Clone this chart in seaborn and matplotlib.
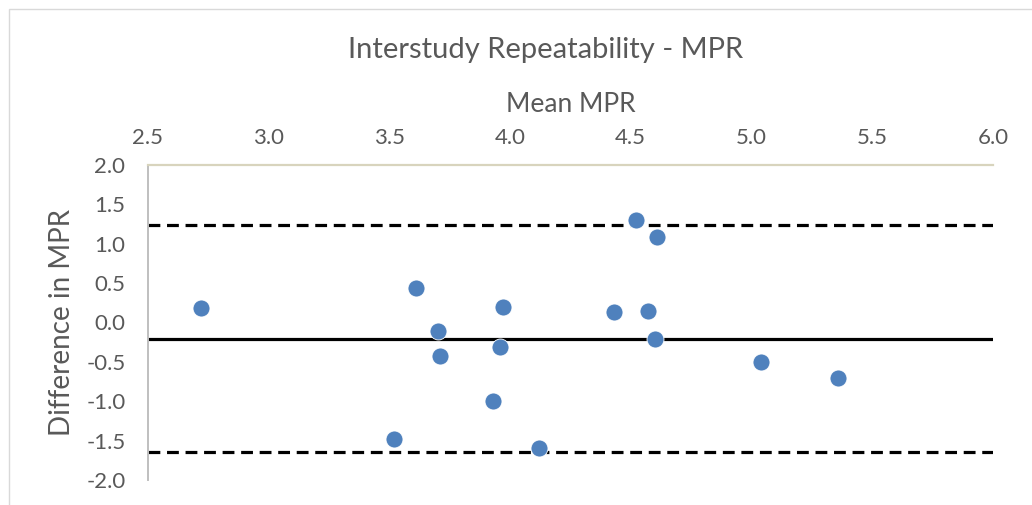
import matplotlib
matplotlib.use("Agg")
import matplotlib.pyplot as plt
import seaborn as sns
import pandas as pd
from matplotlib.patches import Rectangle

# ---- data ----
mean_mpr = [2.72, 3.61, 3.70, 3.71, 3.52, 3.97, 3.96, 3.93,
            4.52, 4.61, 4.43, 4.57, 4.60, 5.04, 5.36, 4.12]
diff_mpr = [0.18, 0.44, -0.11, -0.42, -1.48, 0.20, -0.31, -1.00,
            1.30, 1.09, 0.13, 0.14, -0.21, -0.50, -0.70, -1.59]
bias = -0.21
upper_loa = 1.24
lower_loa = -1.65
x_ticks = [2.5, 3.0, 3.5, 4.0, 4.5, 5.0, 5.5, 6.0]
y_ticks = [2.0, 1.5, 1.0, 0.5, 0.0, -0.5, -1.0, -1.5, -2.0]
title = "Interstudy Repeatability - MPR"
x_label = "Mean MPR"
y_label = "Difference in MPR"

df = pd.DataFrame({"mean": mean_mpr, "diff": diff_mpr})

sns.set_style("white")
plt.rcParams["font.family"] = ["Lato", "DejaVu Sans"]
text_color = "#595959"

fig = plt.figure(figsize=(10.32, 5.05), dpi=100)
ax = fig.add_axes([147.7 / 1032, 1 - 480 / 505, (993 - 147.7) / 1032, (480 - 165) / 505])

# chart border
fig.patches.append(Rectangle((9 / 1032, -0.1), 1.2, 1 - 9 / 505 + 0.1,
                             transform=fig.transFigure, fill=False,
                             edgecolor="#d9d9d9", linewidth=1.0, zorder=0))

ax.axhline(upper_loa, color="black", linewidth=2.3, linestyle=(0, (3.7, 2.1)), zorder=1)
ax.axhline(lower_loa, color="black", linewidth=2.3, linestyle=(0, (3.7, 2.1)), zorder=1)
ax.axhline(bias, color="black", linewidth=2.3, zorder=1)

sns.scatterplot(data=df, x="mean", y="diff", ax=ax, s=150, color="#4f81bd",
                edgecolor="white", linewidth=0.6, zorder=3, legend=False)

ax.set_xlim(2.5, 6.0)
ax.set_ylim(-2.0, 2.0)
ax.set_xticks(x_ticks)
ax.set_xticklabels([f"{v:.1f}" for v in x_ticks])
ax.set_yticks(y_ticks)
ax.set_yticklabels([f"{v:.1f}" for v in y_ticks])

ax.xaxis.tick_top()
ax.xaxis.set_label_position("top")
ax.tick_params(axis="x", length=0, pad=12, labelsize=16, colors=text_color)
ax.tick_params(axis="y", length=0, pad=16, labelsize=16, colors=text_color)

for s in ["right", "bottom"]:
    ax.spines[s].set_visible(False)
ax.spines["top"].set_color("#d8d4bd")
ax.spines["top"].set_linewidth(1.6)
ax.spines["left"].set_color("#bfbfbf")
ax.spines["left"].set_linewidth(1.4)

ax.set_xlabel(x_label, fontsize=19, color=text_color, labelpad=12)
ax.set_ylabel(y_label, fontsize=20, color=text_color, labelpad=8)
fig.text(546 / 1032, 1 - 50 / 505, title, fontsize=21, color=text_color,
         ha="center", va="center")

fig.savefig("out.png", dpi=100)
